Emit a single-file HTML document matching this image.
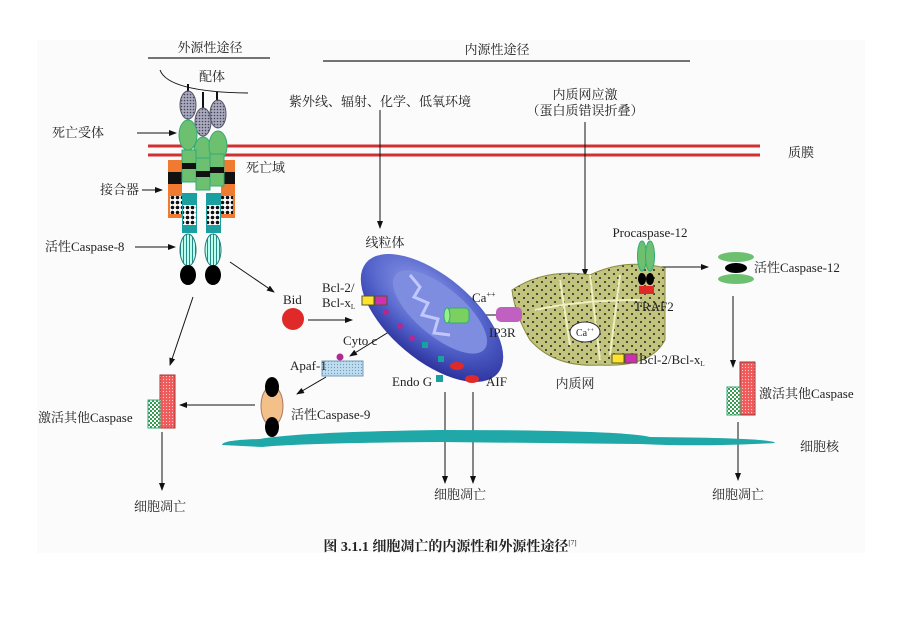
<!DOCTYPE html>
<html><head><meta charset="utf-8"><style>
body{margin:0;background:#fff;width:898px;height:617px;overflow:hidden}
svg text{font-family:"Liberation Serif","Noto Serif CJK SC","Noto Sans CJK SC",serif;fill:#222}
</style></head><body>
<svg width="898" height="617" viewBox="0 0 898 617" xmlns="http://www.w3.org/2000/svg">
<defs>
<marker id="a" markerWidth="8" markerHeight="6" refX="7" refY="3" orient="auto"><path d="M0,0 L8,3 L0,6 Z" fill="#111"/></marker>
<pattern id="chk" width="4" height="4" patternUnits="userSpaceOnUse"><rect width="4" height="4" fill="#fff"/><rect width="2" height="2" fill="#3a9a50"/><rect x="2" y="2" width="2" height="2" fill="#3a9a50"/></pattern>
<pattern id="rd" width="3" height="3" patternUnits="userSpaceOnUse"><rect width="3" height="3" fill="#f05a5a"/><circle cx="1.5" cy="1.5" r="0.6" fill="#fcc"/></pattern>
<pattern id="bk" width="5" height="5" patternUnits="userSpaceOnUse"><rect width="5" height="5" fill="#fff"/><circle cx="2.5" cy="2.5" r="1.8" fill="#111"/></pattern>
<pattern id="bl" width="3" height="3" patternUnits="userSpaceOnUse"><rect width="3" height="3" fill="#aab"/><circle cx="1.5" cy="1.5" r="0.8" fill="#446"/></pattern>
<pattern id="st" width="3" height="3" patternUnits="userSpaceOnUse"><rect width="3" height="3" fill="#bfe"/><rect width="1" height="3" fill="#2a8a8a"/></pattern>
<pattern id="lb" width="3" height="3" patternUnits="userSpaceOnUse"><rect width="3" height="3" fill="#bde"/><circle cx="1.5" cy="1.5" r="0.6" fill="#79b"/></pattern>
<pattern id="er" width="9" height="8" patternUnits="userSpaceOnUse"><rect width="9" height="8" fill="#c2c47e"/><circle cx="2" cy="2" r="1" fill="#222"/><circle cx="6" cy="6" r="1" fill="#222"/></pattern>
<radialGradient id="mito" cx="40%" cy="35%" r="70%"><stop offset="0" stop-color="#9aa6f0"/><stop offset="0.6" stop-color="#5060c8"/><stop offset="1" stop-color="#2a2f9a"/></radialGradient>
</defs>
<rect x="37" y="40" width="828" height="513" fill="#fbfbfb"/>
<g font-size="13">
<text x="210" y="52" text-anchor="middle">外源性途径</text>
<line x1="148" y1="58" x2="270" y2="58" stroke="#222" stroke-width="1.3"/>
<text x="497" y="54" text-anchor="middle">内源性途径</text>
<line x1="323" y1="61" x2="690" y2="61" stroke="#222" stroke-width="1.3"/>
<text x="212" y="81" text-anchor="middle">配体</text>
<text x="380" y="106" text-anchor="middle">紫外线、辐射、化学、低氧环境</text>
<text x="585" y="99" text-anchor="middle">内质网应激</text>
<text x="585" y="115" text-anchor="middle">（蛋白质错误折叠）</text>
</g>
<path d="M160,70 Q168,92 248,93" fill="none" stroke="#111"/>
<line x1="148" y1="146" x2="760" y2="146" stroke="#d03030" stroke-width="3"/>
<line x1="148" y1="155" x2="760" y2="155" stroke="#d03030" stroke-width="3"/>
<text x="788" y="157" font-size="13">质膜</text>
<!-- receptor -->
<line x1="188" y1="84" x2="188" y2="92" stroke="#111" stroke-width="2"/>
<line x1="203" y1="92" x2="203" y2="108" stroke="#111" stroke-width="2"/>
<line x1="217" y1="92" x2="217" y2="100" stroke="#111" stroke-width="2"/>
<ellipse cx="188" cy="105" rx="8" ry="14" fill="url(#bl)" stroke="#556"/>
<ellipse cx="203" cy="122" rx="8" ry="14" fill="url(#bl)" stroke="#556"/>
<ellipse cx="218" cy="114" rx="8" ry="14" fill="url(#bl)" stroke="#556"/>
<rect x="168" y="160" width="67" height="58" fill="#f07a30"/>
<rect x="182" y="160" width="39" height="58" fill="#fbfbfb"/>
<rect x="168" y="172" width="14" height="12" fill="#111"/><rect x="221" y="172" width="14" height="12" fill="#111"/>
<rect x="170" y="196" width="12" height="18" fill="url(#bk)"/><rect x="221" y="196" width="12" height="18" fill="url(#bk)"/>
<ellipse cx="188" cy="135" rx="9" ry="15" fill="#6cc070" stroke="#3a7"/>
<ellipse cx="203" cy="152" rx="9" ry="15" fill="#6cc070" stroke="#3a7"/>
<ellipse cx="218" cy="146" rx="9" ry="15" fill="#6cc070" stroke="#3a7"/>
<rect x="182" y="150" width="14" height="32" fill="#6cc070" stroke="#3a7"/>
<rect x="196" y="158" width="14" height="32" fill="#6cc070" stroke="#3a7"/>
<rect x="210" y="154" width="14" height="32" fill="#6cc070" stroke="#3a7"/>
<rect x="182" y="163" width="14" height="6" fill="#111"/><rect x="196" y="171" width="14" height="6" fill="#111"/><rect x="210" y="167" width="14" height="6" fill="#111"/>
<rect x="182" y="193" width="15" height="40" fill="#1aa0a0"/><rect x="206" y="193" width="15" height="40" fill="#1aa0a0"/>
<rect x="183" y="205" width="13" height="20" fill="url(#bk)"/><rect x="207" y="205" width="13" height="20" fill="url(#bk)"/>
<ellipse cx="188" cy="250" rx="8" ry="16" fill="url(#st)" stroke="#277"/>
<ellipse cx="213" cy="250" rx="8" ry="16" fill="url(#st)" stroke="#277"/>
<ellipse cx="188" cy="275" rx="8" ry="10" fill="#000"/>
<ellipse cx="213" cy="275" rx="8" ry="10" fill="#000"/>
<g font-size="13">
<text x="52" y="137">死亡受体</text>
<text x="246" y="172">死亡域</text>
<text x="100" y="194">接合器</text>
<text x="45" y="251">活性Caspase-8</text>
</g>
<g stroke="#111" stroke-width="1" marker-end="url(#a)" fill="none">
<line x1="137" y1="133" x2="176" y2="133"/>
<line x1="142" y1="190" x2="162" y2="190"/>
<line x1="135" y1="247" x2="175" y2="247"/>
<line x1="230" y1="262" x2="274" y2="292"/>
<line x1="193" y1="297" x2="170" y2="365"/>
<line x1="380" y1="110" x2="380" y2="228"/>
<line x1="585" y1="122" x2="585" y2="276"/>
<line x1="308" y1="320" x2="352" y2="320"/>
<line x1="400" y1="325" x2="350" y2="356"/>
<line x1="326" y1="377" x2="297" y2="394"/>
<line x1="255" y1="405" x2="180" y2="405"/>
<line x1="162" y1="432" x2="162" y2="490"/>
<line x1="445" y1="392" x2="445" y2="483"/>
<line x1="473" y1="392" x2="473" y2="483"/>
<line x1="514" y1="315" x2="430" y2="315"/>
<line x1="652" y1="267" x2="708" y2="267"/>
<line x1="733" y1="296" x2="733" y2="367"/>
<line x1="738" y1="422" x2="738" y2="480"/>
<line x1="612" y1="325" x2="632" y2="312"/>
</g>
<text x="283" y="304" font-size="13">Bid</text>
<circle cx="293" cy="319" r="11" fill="#e02a2a"/>
<!-- mitochondrion -->
<text x="385" y="247" text-anchor="middle" font-size="13">线粒体</text>
<ellipse cx="432" cy="318" rx="86" ry="42" transform="rotate(40 432 318)" fill="url(#mito)"/>
<ellipse cx="440" cy="312" rx="58" ry="24" transform="rotate(40 440 312)" fill="#7f8de0"/>
<path d="M410,275 l10,12 l-6,10 l14,6 l-6,12 l16,4 l-4,14 l16,2" fill="none" stroke="#c0c8ff" stroke-width="3"/>
<text x="322" y="292" font-size="13">Bcl-2/</text>
<text x="322" y="307" font-size="13">Bcl-x<tspan font-size="7" dy="2">L</tspan></text>
<rect x="362" y="296" width="12" height="9" fill="#ffe22a" stroke="#553"/>
<rect x="375" y="296" width="12" height="9" fill="#d030b0" stroke="#553"/>
<circle cx="386" cy="312" r="3" fill="#b02a90"/><circle cx="400" cy="326" r="3" fill="#b02a90"/><circle cx="412" cy="338" r="3" fill="#b02a90"/>
<rect x="422" y="342" width="6" height="6" fill="#1aa0a0"/><rect x="438" y="356" width="6" height="6" fill="#1aa0a0"/>
<ellipse cx="457" cy="366" rx="7" ry="4" fill="#e02a2a"/>
<text x="343" y="345" font-size="13">Cyto c</text>
<circle cx="340" cy="357" r="3.5" fill="#b02a90"/>
<rect x="322" y="361" width="41" height="15" fill="url(#lb)" stroke="#79b"/>
<text x="290" y="370" font-size="13">Apaf-1</text>
<ellipse cx="272" cy="406" rx="11" ry="20" fill="#f4c08a" stroke="#a76"/>
<ellipse cx="272" cy="387" rx="7" ry="10" fill="#000"/><ellipse cx="272" cy="427" rx="7" ry="10" fill="#000"/>
<text x="291" y="419" font-size="13">活性Caspase-9</text>
<rect x="160" y="375" width="15" height="53" fill="url(#rd)" stroke="#a33"/>
<rect x="148" y="400" width="12" height="28" fill="url(#chk)" stroke="#3a7"/>
<text x="38" y="422" font-size="13">激活其他Caspase</text>
<text x="160" y="511" text-anchor="middle" font-size="13">细胞凋亡</text>
<text x="392" y="386" font-size="13">Endo G</text>
<rect x="436" y="375" width="7" height="7" fill="#1aa0a0"/>
<ellipse cx="472" cy="379" rx="7" ry="4" fill="#e02a2a"/>
<text x="486" y="386" font-size="13">AIF</text>
<text x="460" y="499" text-anchor="middle" font-size="13">细胞凋亡</text>
<path d="M222,445 Q222,440 260,439 Q300,432 440,430 Q620,430 650,437 Q775,438 775,443 Q700,447 640,444 L440,442 Q300,443 262,447 Z" fill="#20a8a8"/>
<text x="800" y="451" font-size="13">细胞核</text>
<!-- ER -->
<path d="M512,290 Q545,268 590,275 Q625,258 665,268 L665,340 Q650,368 600,365 Q555,368 530,340 Q515,315 512,290 Z" fill="url(#er)" stroke="#8a8a40"/>
<path d="M560,280 L570,345 M620,275 L610,355 M535,310 Q580,300 640,300 M590,275 L600,360" fill="none" stroke="#eef0c0" stroke-width="2"/>
<ellipse cx="585" cy="332" rx="15" ry="10" fill="#fff" stroke="#333"/>
<text x="576" y="336" font-size="10">Ca<tspan font-size="6" dy="-4">++</tspan></text>
<text x="575" y="388" text-anchor="middle" font-size="13">内质网</text>
<text x="634" y="311" font-size="13">TRAF2</text>
<rect x="612" y="354" width="12" height="9" fill="#ffe22a" stroke="#553"/>
<rect x="625" y="354" width="12" height="9" fill="#d030b0" stroke="#553"/>
<text x="639" y="364" font-size="13">Bcl-2/Bcl-x<tspan font-size="7" dy="2">L</tspan></text>
<text x="472" y="302" font-size="13">Ca<tspan font-size="8" dy="-5">++</tspan></text>
<rect x="447" y="308" width="22" height="15" rx="4" fill="#7cd060" stroke="#3a7"/>
<ellipse cx="447" cy="315.5" rx="3" ry="7.5" fill="#9e8" stroke="#3a7"/>
<rect x="496" y="307" width="26" height="15" rx="5" fill="#c060c0"/>
<text x="489" y="337" font-size="13">IP3R</text>
<text x="650" y="237" text-anchor="middle" font-size="13">Procaspase-12</text>
<ellipse cx="642" cy="256" rx="4.5" ry="15" fill="#6cc070" stroke="#3a7"/>
<ellipse cx="650" cy="256" rx="4.5" ry="15" fill="#6cc070" stroke="#3a7"/>
<ellipse cx="642" cy="279" rx="4" ry="6" fill="#000"/><ellipse cx="650" cy="279" rx="4" ry="6" fill="#000"/>
<rect x="639" y="286" width="15" height="8" fill="#e02a2a"/>
<ellipse cx="736" cy="257" rx="18" ry="5" fill="#6cc070"/>
<ellipse cx="736" cy="268" rx="11" ry="5" fill="#000"/>
<ellipse cx="736" cy="279" rx="18" ry="5" fill="#6cc070"/>
<text x="754" y="272" font-size="13">活性Caspase-12</text>
<rect x="740" y="362" width="15" height="53" fill="url(#rd)" stroke="#a33"/>
<rect x="727" y="387" width="13" height="28" fill="url(#chk)" stroke="#3a7"/>
<text x="759" y="398" font-size="13">激活其他Caspase</text>
<text x="738" y="499" text-anchor="middle" font-size="13">细胞凋亡</text>
<text x="450" y="551" text-anchor="middle" font-size="14" font-weight="bold">图 3.1.1  细胞凋亡的内源性和外源性途径<tspan font-size="7" dy="-6" font-weight="normal">[7]</tspan></text>
</svg>
</body></html>
